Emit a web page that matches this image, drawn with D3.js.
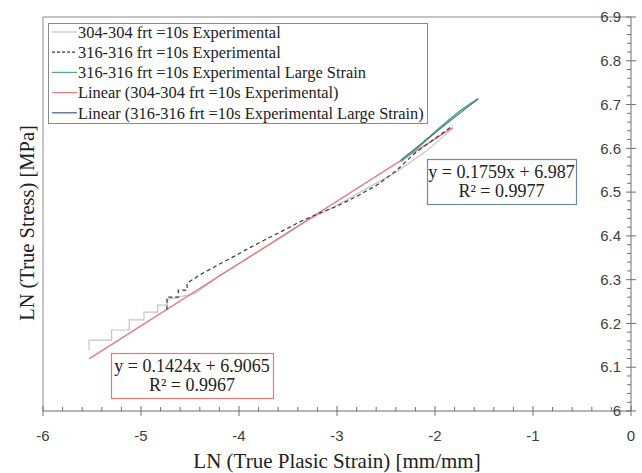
<!DOCTYPE html>
<html>
<head>
<meta charset="utf-8">
<script src="https://cdn.jsdelivr.net/npm/d3@7/dist/d3.min.js"></script>
<style>
  html, body { margin: 0; padding: 0; background: #fff; }
  svg { display: block; }
</style>
</head>
<body>
<svg id="chart" width="642" height="473"></svg>
<script>
// ln(true plastic strain) vs ln(true stress) for the tested joints

// 304-304, frt = 10 s (stepped at small strain, then smooth)
const s304x = [-5.53, -5.53, -5.30, -5.30, -5.12, -5.12, -4.97, -4.97, -4.83, -4.83, -4.73, -4.73,
               -4.45, -4.20, -3.90, -3.60, -3.30, -3.00, -2.70, -2.40, -2.10, -1.82];
const s304y = [6.139, 6.162, 6.162, 6.185, 6.185, 6.208, 6.208, 6.226, 6.226, 6.242, 6.242, 6.255,
               6.268, 6.309, 6.350, 6.392, 6.435, 6.470, 6.508, 6.545, 6.592, 6.645];

// 316-316, frt = 10 s
const s316x = [-4.735, -4.735, -4.62, -4.62, -4.53, -4.53, -4.40, -4.22, -4.06, -3.89, -3.71, -3.55,
               -3.38, -3.20, -3.00, -2.80, -2.60, -2.40, -2.20, -2.00, -1.82];
const s316y = [6.231, 6.260, 6.260, 6.276, 6.276, 6.292, 6.311, 6.333, 6.352, 6.373, 6.394, 6.412,
               6.432, 6.450, 6.468, 6.490, 6.515, 6.548, 6.590, 6.622, 6.652];

// 316-316, frt = 10 s, large strain range
const s316Lx = [-2.35, -2.25, -2.15, -2.05, -1.95, -1.85, -1.75, -1.65, -1.56];
const s316Ly = [6.570, 6.588, 6.607, 6.627, 6.647, 6.666, 6.684, 6.700, 6.713];

// Linear trend lines: slope, intercept, R², x range
const fit304 = { slope: 0.1424, intercept: 6.9065, r2: 0.9967, x0: -5.53, x1: -1.82 };
const fit316L = { slope: 0.1759, intercept: 6.987, r2: 0.9977, x0: -2.35, x1: -1.56 };

const xTicks = [-6, -5, -4, -3, -2, -1, 0];
const yTicks = [6, 6.1, 6.2, 6.3, 6.4, 6.5, 6.6, 6.7, 6.8, 6.9];

const legendLabels = [
  "304-304 frt =10s Experimental",
  "316-316 frt =10s Experimental",
  "316-316 frt =10s Experimental Large Strain",
  "Linear (304-304 frt =10s Experimental)",
  "Linear (316-316 frt =10s Experimental Large Strain)"
];

const svg = d3.select("#chart");
const x = d3.scaleLinear().domain([-6, 0]).range([43, 631]);
const y = d3.scaleLinear().domain([6, 6.9]).range([411, 17]);

const serif = "'Liberation Serif', 'Times New Roman', serif";
const sans = "'Liberation Sans', Arial, sans-serif";

const colors = {
  s304: "#c4c4c4",
  s316: "#3a3a3a",
  s316L: "#4fa89c",
  fit304: "#e07a78",
  fit316L: "#3f5f7c"
};

// plot area frame (left and top)
svg.append("path")
  .attr("d", `M${x(-6)},${y(6)}V${y(6.9)}H${x(0)}`)
  .attr("fill", "none").attr("stroke", "#8a8a8a").attr("stroke-width", 1);

// x axis at y = 6
const xAxisG = svg.append("g").attr("transform", `translate(0,${y(6)})`);
xAxisG.append("line").attr("x1", x(-6)).attr("x2", x(0)).attr("stroke", "#6e6e6e");
const xMinor = d3.range(-6, 0.001, 0.2).filter(v => Math.abs(v - Math.round(v)) > 1e-6);
xAxisG.selectAll(".xminor").data(xMinor).join("line")
  .attr("x1", d => x(d)).attr("x2", d => x(d)).attr("y1", 0).attr("y2", -4)
  .attr("stroke", "#6e6e6e");
xAxisG.selectAll(".xmajor").data(xTicks).join("line")
  .attr("x1", d => x(d)).attr("x2", d => x(d)).attr("y1", -5).attr("y2", 5)
  .attr("stroke", "#6e6e6e");
xAxisG.selectAll(".xlab").data(xTicks).join("text")
  .attr("x", d => x(d)).attr("y", 30)
  .attr("text-anchor", "middle")
  .attr("font-family", sans).attr("font-size", 15).attr("fill", "#404040")
  .text(d => d3.format("d")(d).replace("−", "-"));

// y axis at x = 0 (right side)
const yAxisG = svg.append("g").attr("transform", `translate(${x(0)},0)`);
yAxisG.append("line").attr("y1", y(6)).attr("y2", y(6.9)).attr("stroke", "#6e6e6e");
const yMinor = d3.range(6, 6.9001, 0.02).filter(v => Math.abs(v * 10 - Math.round(v * 10)) > 1e-6);
yAxisG.selectAll(".yminor").data(yMinor).join("line")
  .attr("y1", d => y(d)).attr("y2", d => y(d)).attr("x1", 0).attr("x2", -4)
  .attr("stroke", "#6e6e6e");
yAxisG.selectAll(".ymajor").data(yTicks).join("line")
  .attr("y1", d => y(d)).attr("y2", d => y(d)).attr("x1", -5).attr("x2", 5)
  .attr("stroke", "#6e6e6e");
yAxisG.selectAll(".ylab").data(yTicks).join("text")
  .attr("x", -10).attr("y", d => y(d)).attr("dy", "0.35em")
  .attr("text-anchor", "end")
  .attr("font-family", sans).attr("font-size", 15).attr("fill", "#404040")
  .text(d => d === 6 ? "6" : d3.format(".1f")(d));

// axis titles
svg.append("text")
  .attr("x", 337).attr("y", 468).attr("text-anchor", "middle")
  .attr("font-family", serif).attr("font-size", 21).attr("fill", "#222")
  .text("LN (True Plasic Strain) [mm/mm]");
svg.append("text")
  .attr("transform", "translate(34,223) rotate(-90)")
  .attr("text-anchor", "middle")
  .attr("font-family", serif).attr("font-size", 20.5).attr("fill", "#222")
  .text("LN (True Stress) [MPa]");

// series
const line = d3.line().x(d => x(d[0])).y(d => y(d[1]));
const zip = (a, b) => a.map((v, i) => [v, b[i]]);

svg.append("path").datum(zip(s304x, s304y))
  .attr("d", line).attr("fill", "none")
  .attr("stroke", colors.s304).attr("stroke-width", 1.2);

const fitPts = f => [[f.x0, f.slope * f.x0 + f.intercept], [f.x1, f.slope * f.x1 + f.intercept]];
svg.append("path").datum(fitPts(fit304))
  .attr("d", line).attr("fill", "none")
  .attr("stroke", colors.fit304).attr("stroke-width", 1.3);

svg.append("path").datum(zip(s316x, s316y))
  .attr("d", line).attr("fill", "none")
  .attr("stroke", colors.s316).attr("stroke-width", 1.2)
  .attr("stroke-dasharray", "4,3");

svg.append("path").datum(zip(s316Lx, s316Ly))
  .attr("d", line).attr("fill", "none")
  .attr("stroke", colors.s316L).attr("stroke-width", 1.8);

svg.append("path").datum(fitPts(fit316L))
  .attr("d", line).attr("fill", "none")
  .attr("stroke", colors.fit316L).attr("stroke-width", 1);

// legend
const legend = svg.append("g");
legend.append("rect")
  .attr("x", 48.5).attr("y", 23.5).attr("width", 379).attr("height", 100)
  .attr("fill", "#fff").attr("stroke", "#8a8a8a");
const legendStyles = [
  { c: colors.s304, dash: null },
  { c: colors.s316, dash: "3,2" },
  { c: colors.s316L, dash: null },
  { c: colors.fit304, dash: null },
  { c: colors.fit316L, dash: null }
];
legendLabels.forEach((lab, i) => {
  const yy = 32 + i * 20.2;
  legend.append("line")
    .attr("x1", 52).attr("x2", 77).attr("y1", yy).attr("y2", yy)
    .attr("stroke", legendStyles[i].c).attr("stroke-width", 1.2)
    .attr("stroke-dasharray", legendStyles[i].dash);
  legend.append("text")
    .attr("x", 78).attr("y", yy).attr("dy", "0.35em")
    .attr("font-family", serif).attr("font-size", 16.4).attr("fill", "#222")
    .text(lab);
});

// trend line equations
function eqBox(f, bx, by, bw, bh, stroke) {
  const g = svg.append("g");
  g.append("rect").attr("x", bx + 0.5).attr("y", by + 0.5).attr("width", bw).attr("height", bh)
    .attr("fill", "#fff").attr("stroke", stroke).attr("stroke-width", 1.2);
  g.append("text").attr("x", bx + bw / 2).attr("y", by + 13).attr("dy", "0.35em")
    .attr("text-anchor", "middle")
    .attr("font-family", serif).attr("font-size", 18).attr("fill", "#222")
    .text(`y = ${f.slope}x + ${f.intercept}`);
  g.append("text").attr("x", bx + bw / 2).attr("y", by + 32).attr("dy", "0.35em")
    .attr("text-anchor", "middle")
    .attr("font-family", serif).attr("font-size", 18).attr("fill", "#222")
    .text(`R² = ${f.r2}`);
}
eqBox(fit304, 111, 353, 162, 45, "#e07a78");
eqBox(fit316L, 427, 159, 149, 45, "#6f8a9a");
</script>
</body>
</html>
